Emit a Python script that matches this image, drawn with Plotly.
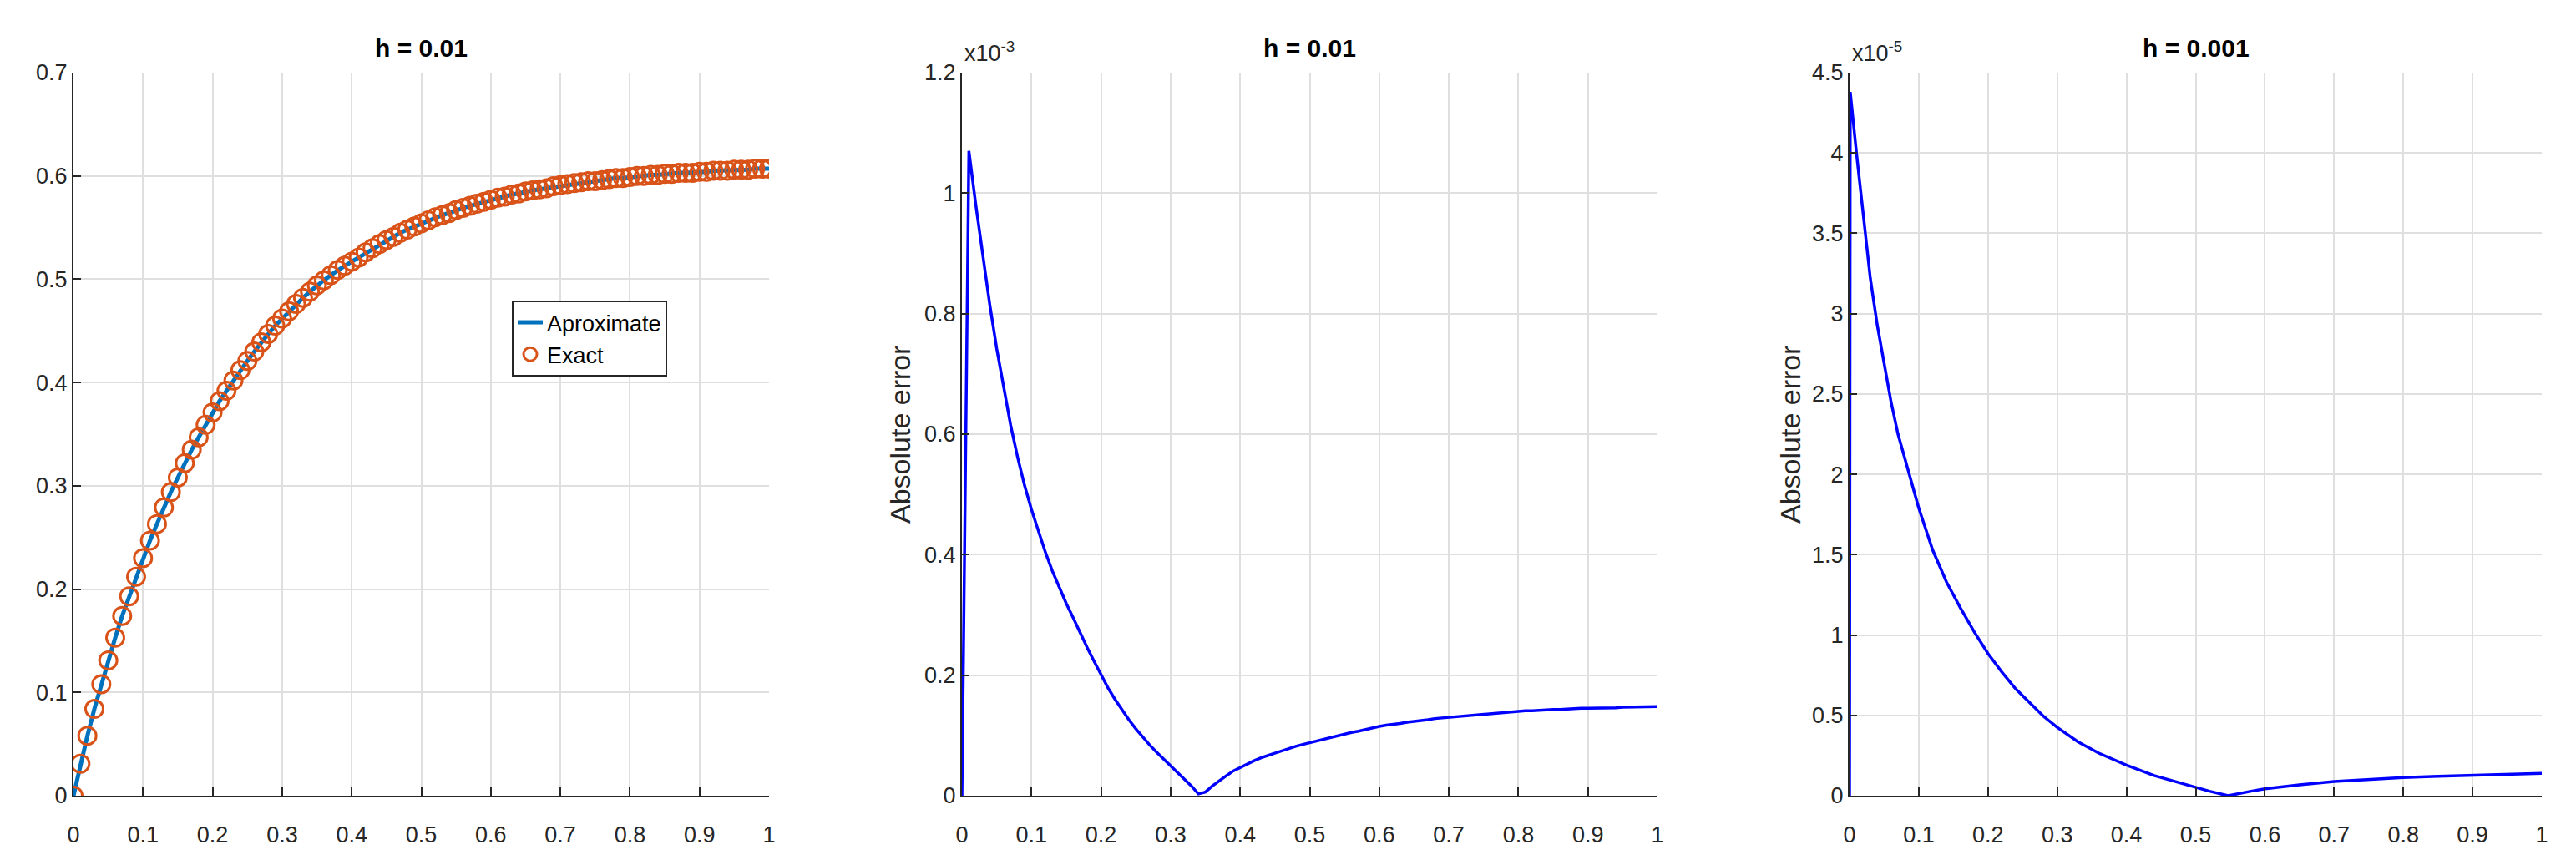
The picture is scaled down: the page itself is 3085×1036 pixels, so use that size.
import plotly.graph_objects as go

# step sizes used in the three panels
h_coarse = 0.01

# x grid for h = 0.01 (0, 0.01, ..., 1)
x_coarse = [round(i * h_coarse, 2) for i in range(101)]

# exact solution (approximation sits on top of it)
y_exact = [
    0.000, 0.031, 0.058, 0.084, 0.108, 0.131, 0.153, 0.174, 0.193, 0.212,
    0.230, 0.247, 0.263, 0.279, 0.294, 0.308, 0.322, 0.335, 0.347, 0.359,
    0.371, 0.382, 0.392, 0.402, 0.412, 0.421, 0.430, 0.439, 0.447, 0.455,
    0.462, 0.469, 0.476, 0.482, 0.488, 0.494, 0.499, 0.504, 0.509, 0.513,
    0.517, 0.521, 0.526, 0.530, 0.534, 0.538, 0.541, 0.545, 0.548, 0.551,
    0.554, 0.557, 0.560, 0.562, 0.564, 0.567, 0.569, 0.571, 0.573, 0.575,
    0.577, 0.579, 0.580, 0.582, 0.583, 0.585, 0.586, 0.587, 0.588, 0.590,
    0.591, 0.592, 0.593, 0.594, 0.595, 0.595, 0.596, 0.597, 0.598, 0.598,
    0.599, 0.600, 0.600, 0.601, 0.601, 0.602, 0.602, 0.603, 0.603, 0.603,
    0.604, 0.604, 0.605, 0.605, 0.605, 0.606, 0.606, 0.606, 0.607, 0.607,
    0.607,
]
y_approx = list(y_exact)  # indistinguishable from exact at this scale

# absolute error for h = 0.01, in units of 1e-3
err_coarse = [
    0.000, 1.070, 0.980, 0.895, 0.815, 0.742, 0.675, 0.615, 0.562, 0.515,
    0.475, 0.438, 0.404, 0.373, 0.345, 0.319, 0.295, 0.270, 0.246, 0.223,
    0.200, 0.179, 0.160, 0.142, 0.126, 0.111, 0.097, 0.084, 0.072, 0.061,
    0.050, 0.039, 0.028, 0.016, 0.003, 0.006, 0.016, 0.025, 0.033, 0.041,
    0.047, 0.053, 0.058, 0.063, 0.067, 0.071, 0.075, 0.079, 0.082, 0.085,
    0.088, 0.091, 0.094, 0.097, 0.100, 0.102, 0.105, 0.107, 0.110, 0.112,
    0.115, 0.117, 0.118, 0.120, 0.122, 0.123, 0.125, 0.126, 0.128, 0.129,
    0.131, 0.132, 0.133, 0.134, 0.135, 0.136, 0.137, 0.138, 0.138, 0.139,
    0.140, 0.141, 0.141, 0.142, 0.142, 0.143, 0.143, 0.144, 0.144, 0.145,
    0.145, 0.145, 0.146, 0.146, 0.146, 0.147, 0.147, 0.147, 0.148, 0.148,
    0.148,
]

# absolute error for h = 0.001, in units of 1e-5
x_fine = [0, 0.001, 0.01, 0.02, 0.03, 0.04, 0.05, 0.06, 0.07, 0.08, 0.09,
          0.10, 0.12, 0.14, 0.16, 0.18, 0.20, 0.22, 0.24, 0.26, 0.28, 0.30,
          0.33, 0.36, 0.40, 0.44, 0.48, 0.50, 0.52, 0.547, 0.56, 0.58, 0.60,
          0.65, 0.70, 0.75, 0.80, 0.85, 0.90, 0.95, 1.0]
err_fine = [0.0, 4.38, 4.00, 3.60, 3.22, 2.93, 2.68, 2.45, 2.25, 2.10, 1.94,
            1.79, 1.53, 1.33, 1.17, 1.02, 0.885, 0.77, 0.665, 0.58, 0.495, 0.425,
            0.335, 0.265, 0.19, 0.125, 0.075, 0.05, 0.028, 0.0, 0.012, 0.028, 0.043,
            0.068, 0.088, 0.102, 0.113, 0.121, 0.128, 0.134, 0.139]

x_ticks = [0, 0.1, 0.2, 0.3, 0.4, 0.5, 0.6, 0.7, 0.8, 0.9, 1]
y1_ticks = [0, 0.1, 0.2, 0.3, 0.4, 0.5, 0.6, 0.7]
y2_ticks = [0, 0.2, 0.4, 0.6, 0.8, 1, 1.2]
y3_ticks = [0, 0.5, 1, 1.5, 2, 2.5, 3, 3.5, 4, 4.5]

# the page body has an 8px margin, so the figure is a bit smaller than the window
W, H = 3085, 1036
OFF = 8
FIG_W, FIG_H = W - 2 * OFF, H - 2 * OFF
FONT = "Liberation Sans, Arial, sans-serif"
AXIS_COLOR = "#262626"
GRID_COLOR = "#dfdfdf"


def px(p):
    # window pixel -> paper x
    return (p - OFF) / FIG_W


def py(p):
    # window pixel (from top) -> paper y
    return 1 - (p - OFF) / FIG_H


# panel pixel boxes (left, right); all share top 87 / bottom 953
panels = [(88, 921), (1152, 1985), (2215, 3044)]
y_dom = [py(953), py(87)]

fig = go.Figure()

fig.add_trace(go.Scatter(
    x=x_coarse, y=y_approx, name="Aproximate", mode="lines",
    line=dict(color="#0072BD", width=5),
    xaxis="x", yaxis="y"
))
fig.add_trace(go.Scatter(
    x=x_coarse, y=y_exact, name="Exact", mode="markers",
    marker=dict(symbol="circle-open", size=21, color="#D95319",
                line=dict(width=3, color="#D95319")),
    xaxis="x", yaxis="y"
))
fig.add_trace(go.Scatter(
    x=x_coarse, y=err_coarse, mode="lines", showlegend=False,
    line=dict(color="#0000FF", width=3.5),
    xaxis="x2", yaxis="y2"
))
fig.add_trace(go.Scatter(
    x=x_fine, y=err_fine, mode="lines", showlegend=False,
    line=dict(color="#0000FF", width=3.5),
    xaxis="x3", yaxis="y3"
))


def x_axis(i):
    left, right = panels[i]
    return dict(
        domain=[px(left), px(right)], anchor="y" if i == 0 else f"y{i + 1}",
        range=[0, 1], tickvals=x_ticks, ticks="inside", ticklen=11, tickwidth=2,
        tickcolor=AXIS_COLOR, showline=True, linecolor=AXIS_COLOR, linewidth=2,
        showgrid=True, gridcolor=GRID_COLOR, gridwidth=2, zeroline=False,
        tickfont=dict(family=FONT, size=27, color=AXIS_COLOR),
        ticklabelstandoff=22, automargin=False, fixedrange=True
    )


def y_axis(i, rng, ticks):
    return dict(
        domain=y_dom, anchor="x" if i == 0 else f"x{i + 1}",
        range=rng, tickvals=ticks, ticks="inside", ticklen=9, tickwidth=2,
        tickcolor=AXIS_COLOR, showline=True, linecolor=AXIS_COLOR, linewidth=2,
        showgrid=True, gridcolor=GRID_COLOR, gridwidth=2, zeroline=False,
        tickfont=dict(family=FONT, size=27, color=AXIS_COLOR),
        ticklabelstandoff=0, automargin=False, fixedrange=True
    )


annotations = []
titles = ["h = 0.01", "h = 0.01", "h = 0.001"]
for (left, right), t in zip(panels, titles):
    annotations.append(dict(
        text=f"<b>{t}</b>", x=px((left + right) / 2), y=py(57),
        xref="paper", yref="paper", xanchor="center", yanchor="middle",
        showarrow=False, font=dict(family=FONT, size=30, color="#000000")
    ))

# exponent labels and y titles on the error panels
for (left, right), expo, ytitle_x in [(panels[1], "-3", 1078), (panels[2], "-5", 2144)]:
    annotations.append(dict(
        text=f"x10<sup>{expo}</sup>", x=px(left + 1), y=py(62),
        xref="paper", yref="paper", xanchor="left", yanchor="middle",
        showarrow=False, font=dict(family=FONT, size=27, color=AXIS_COLOR)
    ))
    annotations.append(dict(
        text="Absolute error", x=px(ytitle_x), y=py(520), textangle=-90,
        xref="paper", yref="paper", xanchor="center", yanchor="middle",
        showarrow=False, font=dict(family=FONT, size=34, color=AXIS_COLOR)
    ))

fig.update_layout(
    width=FIG_W, height=FIG_H, autosize=False,
    margin=dict(l=0, r=0, t=0, b=0),
    paper_bgcolor="white", plot_bgcolor="white",
    xaxis=x_axis(0), xaxis2=x_axis(1), xaxis3=x_axis(2),
    yaxis=y_axis(0, [0, 0.7], y1_ticks),
    yaxis2=y_axis(1, [0, 1.2], y2_ticks),
    yaxis3=y_axis(2, [0, 4.5], y3_ticks),
    annotations=annotations,
    showlegend=True,
    legend=dict(
        x=px(613), y=py(360), xanchor="left", yanchor="top",
        bgcolor="white", bordercolor=AXIS_COLOR, borderwidth=2,
        font=dict(family=FONT, size=27, color="#000000"),
        tracegroupgap=0
    ),
)

fig.write_html("out.html")
